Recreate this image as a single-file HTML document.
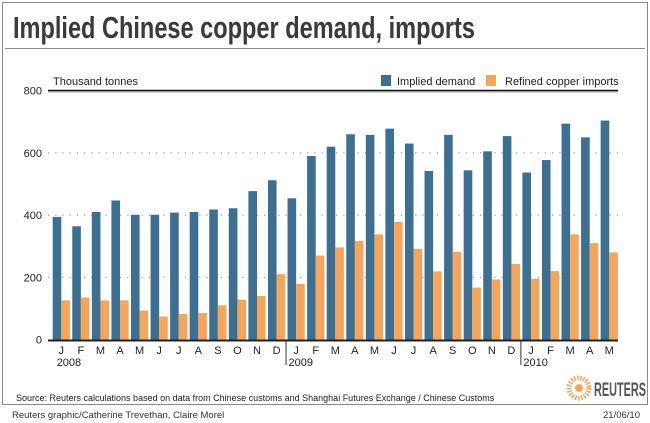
<!DOCTYPE html>
<html><head><meta charset="utf-8"><style>
body{margin:0;background:#fff;}
svg{display:block;font-family:"Liberation Sans",sans-serif;}
</style></head><body>
<svg id="chart" width="650" height="423" viewBox="0 0 650 423">
<rect x="0" y="0" width="650" height="423" fill="#fff"/>
<rect x="2.5" y="2.5" width="645" height="402" fill="#fff" stroke="#8a8a8a" stroke-width="1"/>
<text x="13" y="38" font-size="31" font-weight="bold" fill="#3a3a3a" textLength="462" lengthAdjust="spacingAndGlyphs">Implied Chinese copper demand, imports</text>
<line x1="5" y1="48.5" x2="645" y2="48.5" stroke="#8a8a8a" stroke-width="1"/>
<text x="53" y="85" font-size="11" fill="#222">Thousand tonnes</text>
<g>
<rect x="381" y="75" width="10" height="11" fill="#3d6f93"/>
<text x="397" y="85" font-size="11" fill="#222">Implied demand</text>
<rect x="486" y="75" width="10" height="11" fill="#f5a65b"/>
<text x="505" y="85" font-size="11" fill="#222">Refined copper imports</text>
</g>
<line x1="48" y1="90.5" x2="618" y2="90.5" stroke="#111" stroke-width="1.5"/>
<line x1="48" y1="92" x2="618" y2="92" stroke="#aaa" stroke-width="1"/>
<g id="grid"></g>
<g id="bars"></g>
<g id="xaxis"></g>
<text x="16" y="401" font-size="9" fill="#222">Source: Reuters calculations based on data from Chinese customs and Shanghai Futures Exchange / Chinese Customs</text>
<g>
<circle cx="579" cy="388" r="10" fill="none" stroke="#f5a65b" stroke-width="5" stroke-dasharray="1.5 1.5"/>
<circle cx="579" cy="388" r="4" fill="#f5a65b"/>
<text x="594" y="396" font-size="19" font-weight="bold" fill="#555" textLength="52" lengthAdjust="spacingAndGlyphs">REUTERS</text>
</g>
<text x="12" y="418" font-size="9.5" fill="#333">Reuters graphic/Catherine Trevethan, Claire Morel</text>
<text x="640" y="418" font-size="9.5" fill="#333" text-anchor="end">21/06/10</text>
</svg>
<script>
const months = ["J","F","M","A","M","J","J","A","S","O","N","D","J","F","M","A","M","J","J","A","S","O","N","D","J","F","M","A","M"];
const demand = [394,364,410,447,401,401,408,410,418,422,477,512,454,590,620,660,658,678,630,542,658,544,605,654,537,577,694,650,704];
const imports = [126,135,126,126,93,74,82,85,110,128,140,210,179,270,296,317,338,378,291,219,282,167,193,243,195,220,338,310,280];
const yTicks = [0,200,400,600,800];
const years = [{i:0,label:"2008"},{i:12,label:"2009"},{i:24,label:"2010"}];

const NS="http://www.w3.org/2000/svg";
const y0=339.5, ppu=(339.5-90.7)/800;
const yS=v=>y0-v*ppu;
const x0=52.7, pitch=19.57, bw=8.6;
const xS=i=>x0+i*pitch;
function mk(tag,attrs,parent){const e=document.createElementNS(NS,tag);for(const k in attrs)e.setAttribute(k,attrs[k]);parent.appendChild(e);return e;}
const grid=document.getElementById('grid'),bars=document.getElementById('bars'),xa=document.getElementById('xaxis');
yTicks.forEach(t=>{
  if(t>0&&t<800){const l=mk('line',{x1:48,x2:618,y1:yS(t),y2:yS(t),stroke:'#999','stroke-width':1.2,'stroke-dasharray':'1.2 6'},grid);
  
  }
  const tx=mk('text',{x:42,y:yS(t)+4,'font-size':11,'text-anchor':'end',fill:'#222'},grid);
  tx.textContent=t;
  
  
});
months.forEach((m,i)=>{
  const b=mk('rect',{x:xS(i),y:yS(demand[i]),width:bw,height:y0-yS(demand[i]),fill:'#3d6f93'},bars);
  
  
  const o=mk('rect',{x:xS(i)+bw,y:yS(imports[i]),width:bw,height:y0-yS(imports[i]),fill:'#f5a65b'},bars);
  
  
  const t=mk('text',{x:xS(i)+bw,y:354,'font-size':11,'text-anchor':'middle',fill:'#222'},xa);
  t.textContent=m;
  
  
});
years.forEach(yr=>{
  const x=xS(yr.i)-1.5;
  if(yr.i>0){const l=mk('line',{x1:x,x2:x,y1:341,y2:365,stroke:'#333','stroke-width':1},xa);
  
  }
  const t=mk('text',{x:xS(yr.i)+(yr.i>0?1:0)+(yr.i===0?4:0),y:366,'font-size':11,fill:'#222'},xa);
  t.textContent=yr.label;
  
  
});
const ax=mk('line',{x1:48,x2:618,y1:340.5,y2:340.5,stroke:'#222','stroke-width':2},xa);


</script>
</body></html>
